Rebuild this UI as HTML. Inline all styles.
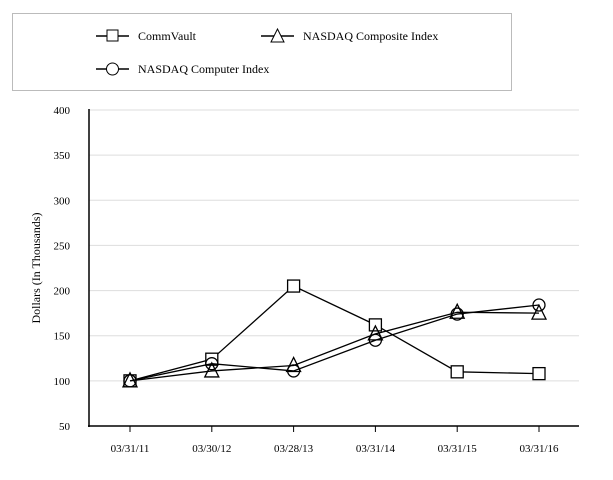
<!DOCTYPE html>
<html><head><meta charset="utf-8"><style>
body{margin:0;background:#fff;}
svg{display:block;font-family:"Liberation Serif",serif;}
</style></head><body>
<svg width="613" height="480">
<rect x="12.5" y="13.5" width="499" height="77" fill="none" stroke="#bbb"/>
<g>
<line x1="96" y1="36" x2="129" y2="36" stroke="#000" stroke-width="1.5"/>
<rect x="107" y="30" width="11" height="11" fill="#fff" stroke="#000"/>
<text x="138" y="40" font-size="12">CommVault</text></g>
<g>
<line x1="261" y1="36" x2="294" y2="36" stroke="#000" stroke-width="1.5"/>
<polygon points="277.5,29 271,42 284,42" fill="#fff" stroke="#000"/>
<text x="303" y="40" font-size="12">NASDAQ Composite Index</text></g>
<g>
<line x1="96" y1="69" x2="129" y2="69" stroke="#000" stroke-width="1.5"/>
<circle cx="112.5" cy="69" r="6" fill="#fff" stroke="#000"/>
<text x="138" y="73" font-size="12">NASDAQ Computer Index</text></g>
<text transform="translate(40,268) rotate(-90)" text-anchor="middle" font-size="12">Dollars (In Thousands)</text>
<g id="plot"></g>
</svg>
<script>
const categories=["03/31/11","03/30/12","03/28/13","03/31/14","03/31/15","03/31/16"];
const yTicks=[50,100,150,200,250,300,350,400];
const commvault=[100,124,205,162,110,108];
const composite=[100,111,117,152,176,175];
const computer=[100,119,111,145,174,184];
const NS="http://www.w3.org/2000/svg";
const g=document.getElementById('plot');
const y=v=>426-(v-50)*316/350;
const x=i=>130+i*81.8;
function mk(t,a){const e=document.createElementNS(NS,t);for(const k in a)e.setAttribute(k,a[k]);g.appendChild(e);return e;}
yTicks.forEach(v=>{
 if(v>50){const l=mk('line',{x1:89,x2:579,y1:y(v),y2:y(v),stroke:'#ddd'});
 
 }
 const t=mk('text',{x:70,y:y(v)+4,'text-anchor':'end','font-size':11});t.textContent=v;
 
 
});
const ya=mk('line',{x1:89,x2:89,y1:109,y2:427,stroke:'#000','stroke-width':1.5});


const xa=mk('line',{x1:88,x2:579,y1:426,y2:426,stroke:'#000','stroke-width':1.5});


categories.forEach((c,i)=>{
 mk('line',{x1:x(i),x2:x(i),y1:426,y2:432,stroke:'#000'});
 const t=mk('text',{x:x(i),y:452,'text-anchor':'middle','font-size':11});t.textContent=c;
 
 
});
function series(vals,name,shape){
 const p=mk('polyline',{points:vals.map((v,i)=>x(i)+','+y(v)).join(' '),fill:'none',stroke:'#000','stroke-width':1.3});
 
 
 vals.forEach((v,i)=>{
  const cx=x(i),cy=y(v);let m;
  if(shape==='sq')m=mk('rect',{x:cx-6,y:cy-6,width:12,height:12,fill:'#fff',stroke:'#000','stroke-width':1.3});
  else if(shape==='tri')m=mk('polygon',{points:`${cx},${cy-8} ${cx-7},${cy+6} ${cx+7},${cy+6}`,fill:'none',stroke:'#000','stroke-width':1.3});
  else m=mk('circle',{cx:cx,cy:cy,r:6,fill:'none',stroke:'#000','stroke-width':1.3});
  
  
 });
}
series(commvault,'commvault','sq');
series(composite,'nasdaq-composite','tri');
series(computer,'nasdaq-computer','circ');
</script>
</body></html>
